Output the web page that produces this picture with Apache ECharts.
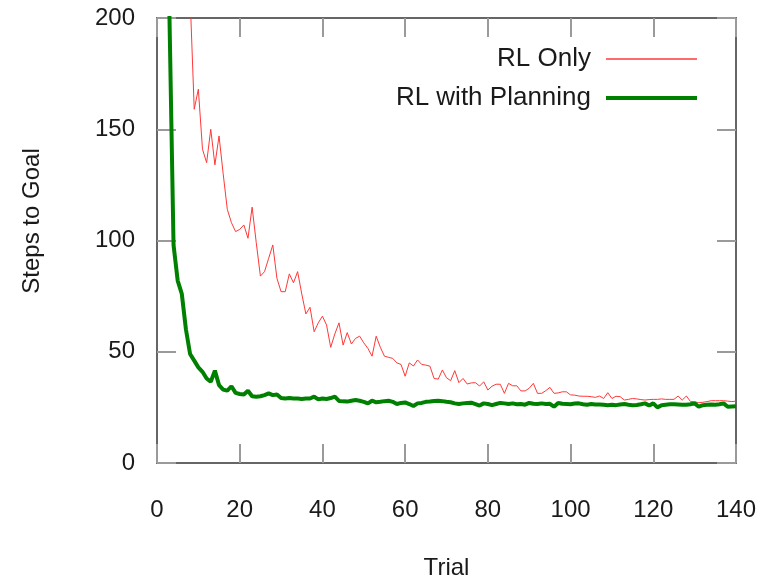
<!DOCTYPE html>
<html>
<head>
<meta charset="utf-8">
<script src="https://cdn.jsdelivr.net/npm/echarts@6/dist/echarts.min.js"></script>
<style>
  html, body { margin: 0; padding: 0; background: #fff; }
  #chart { width: 767px; height: 577px; }
</style>
</head>
<body>
<div id="chart"></div>
<script>
// trial index is position + 1; values above 200 fall off the top of the plot
var rlOnly = [
  520, 430, 360, 310, 270, 240, 222, 210, 159, 168,
  141, 135, 150, 134, 147, 130, 114, 108, 104, 105,
  107, 101, 115, 99, 84, 86, 92, 98, 83, 77,
  77, 85, 81, 86, 76, 67, 70, 59, 63, 66,
  62, 52, 58, 63, 53, 58.6, 53.5, 56, 57, 54,
  51.5, 48, 57, 52, 48, 47.5, 47, 45, 44.3, 39,
  45, 43.6, 46.3, 44.3, 44, 43.5, 38, 37.7, 41.8, 38.3,
  37, 41.5, 36.1, 38, 35.5, 36, 36.1, 34.6, 36.5, 32.8,
  34.5, 35.4, 35.4, 31.3, 35.8, 34.7, 34.7, 32.4, 32.4, 33.6,
  35.8, 31.3, 31.3, 32.5, 34, 31.3, 31.5, 32, 32, 30.6,
  30.5, 30.1, 30, 30, 29.8, 29.5, 30.1, 29, 31.6, 29,
  30, 29.8, 28.3, 28.6, 29, 28.8, 28.5, 28.3, 28.5, 28.6,
  28.6, 28.8, 28.6, 28.6, 28.6, 30.1, 28.3, 30.1, 27.6, 27.5,
  27.1, 27.3, 27.6, 28, 28, 28, 28, 27.8, 27.6, 27.8
];
var rlPlanning = [
  420, 290, 202, 98, 82, 76, 60, 49, 46, 43,
  41, 38, 36.5, 41.5, 35, 33, 32.5, 34.5, 31.5, 31,
  30.8, 32.5, 30, 29.8, 30, 30.5, 31.3, 30.5, 30.8, 29.2,
  29, 29.2, 29, 29, 28.8, 29, 29, 29.8, 28.6, 29,
  28.8, 29.2, 29.8, 27.9, 27.7, 27.6, 28, 28.3, 28, 27.5,
  26.8, 28, 27.3, 27.5, 27.8, 28, 27.5, 26.5, 27, 27.2,
  26.5, 25.6, 26.8, 27, 27.5, 27.6, 27.9, 28, 27.8, 27.5,
  27.3, 26.8, 26.5, 26.8, 27, 27.1, 26.5, 25.8, 26.8, 26.5,
  26, 26.5, 27, 26.8, 26.5, 26.8, 26.4, 26.5, 26.2, 27,
  26.6, 26.5, 26.8, 26.5, 26.6, 25.3, 27, 26.6, 26.5, 26.4,
  26.7, 26.8, 26.4, 26.2, 26.5, 26.3, 26.3, 26.2, 26, 26.2,
  26, 26.3, 26.5, 26.2, 26, 26.1, 26.4, 26.8, 25.8, 26.8,
  25, 26, 26.2, 26.4, 26.4, 26.3, 26.2, 26.2, 26.4, 26.8,
  25.3, 26, 26.2, 26.3, 26.2, 26.4, 26.8, 25.3, 25.4, 25.5
];
var xTicks = [0, 20, 40, 60, 80, 100, 120, 140];
var yTicks = [0, 50, 100, 150, 200];

function pairs(arr) {
  return arr.map(function (v, i) { return [i + 1, v]; });
}

var font = 'Liberation Sans, Arial, sans-serif';
var ink = '#1a1a1a';
var tick = { show: true, inside: true, length: 19, lineStyle: { color: '#9a9a9a', width: 2 } };
var border = { show: true, onZero: false, lineStyle: { color: '#666', width: 2 } };

var chart = echarts.init(document.getElementById('chart'));
chart.setOption({
  animation: false,
  backgroundColor: '#fff',
  textStyle: { fontFamily: font },
  grid: { left: 157, right: 31, top: 18, bottom: 114, outerBoundsMode: 'none', containLabel: false },
  legend: {
    orient: 'vertical',
    align: 'right',
    right: 68,
    top: 46,
    padding: 0,
    itemWidth: 91,
    itemHeight: 14,
    itemGap: 13,
    itemStyle: { opacity: 0 },
    textStyle: { fontSize: 26, color: ink, fontFamily: font, padding: [0, 10, 0, 0] },
    data: [
      { name: 'RL Only', lineStyle: { width: 1.5, opacity: 1 } },
      { name: 'RL with Planning', lineStyle: { width: 4, opacity: 1 } }
    ]
  },
  xAxis: [{
    type: 'value',
    min: xTicks[0],
    max: xTicks[xTicks.length - 1],
    interval: 20,
    name: 'Trial',
    nameLocation: 'middle',
    nameGap: 93,
    nameTextStyle: { fontSize: 24, color: ink },
    axisLine: border,
    axisTick: tick,
    splitLine: { show: false },
    axisLabel: { fontSize: 24, color: ink, margin: 35 }
  }, {
    type: 'value',
    position: 'top',
    min: xTicks[0],
    max: xTicks[xTicks.length - 1],
    interval: 20,
    axisLine: border,
    axisTick: tick,
    splitLine: { show: false },
    axisLabel: { show: false }
  }],
  yAxis: [{
    type: 'value',
    min: yTicks[0],
    max: yTicks[yTicks.length - 1],
    interval: 50,
    name: 'Steps to Goal',
    nameLocation: 'middle',
    nameGap: 113,
    nameTextStyle: { fontSize: 24, color: ink, padding: [0, 0, 0, 39] },
    axisLine: border,
    axisTick: tick,
    splitLine: { show: false },
    axisLabel: { fontSize: 24, color: ink, margin: 22 }
  }, {
    type: 'value',
    position: 'right',
    min: yTicks[0],
    max: yTicks[yTicks.length - 1],
    interval: 50,
    axisLine: border,
    axisTick: tick,
    splitLine: { show: false },
    axisLabel: { show: false }
  }],
  series: [{
    name: 'RL Only',
    type: 'line',
    data: pairs(rlOnly),
    symbol: 'none',
    clip: true,
    color: '#ff3838',
    lineStyle: { color: '#ff3838', width: 1 },
    z: 3
  }, {
    name: 'RL with Planning',
    type: 'line',
    data: pairs(rlPlanning),
    symbol: 'none',
    clip: true,
    color: '#008000',
    lineStyle: { color: '#008000', width: 4 },
    z: 4
  }]
});
</script>
</body>
</html>
